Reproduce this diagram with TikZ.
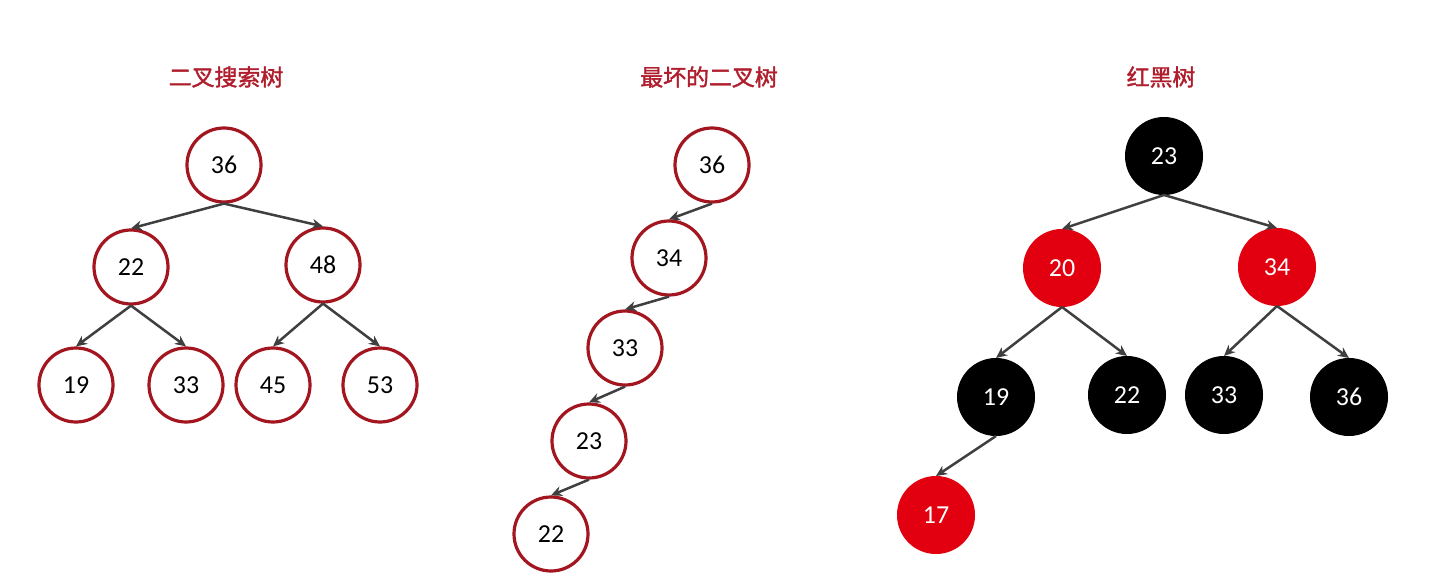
\documentclass[tikz,border=0pt]{standalone}
\usepackage{fontspec}
\setmainfont{Carlito}
\newfontfamily\cjk[AutoFakeBold=1.6]{Noto Sans CJK SC}
\usetikzlibrary{arrows.meta}
\definecolor{bred}{HTML}{A3151F}
\definecolor{tred}{HTML}{B01E2E}
\definecolor{rbred}{HTML}{E20010}
\definecolor{edge}{HTML}{3F3F3F}
\tikzset{
  bst/.style={circle, draw=bred, line width=3.2bp, fill=white, minimum size=74bp, inner sep=0pt, font=\fontsize{26}{30}\selectfont, text=black},
  rnode/.style={circle, fill=rbred, draw=rbred, line width=1bp, minimum size=77bp, inner sep=0pt, font=\fontsize{26}{30}\selectfont, text=white},
  bnode/.style={circle, fill=black, draw=black, line width=1bp, minimum size=77bp, inner sep=0pt, font=\fontsize{26}{30}\selectfont, text=white},
  title/.style={font=\cjk\bfseries\fontsize{23}{27}\selectfont, text=tred},
  link/.style={draw=edge, line width=2.5bp, -{Stealth[length=11bp,width=10bp]}}
}
\begin{document}
\begin{tikzpicture}[x=1bp,y=-1bp]
\useasboundingbox[fill=white] (0,0) rectangle (1445,582);
% titles
\node[title] (t1) at (226,77) {二叉搜索树};
\node[title] (t2) at (709,77) {最坏的二叉树};
\node[title] (t3) at (1161,77) {红黑树};
% tree 1
\node[bst] (a36) at (224,165) {36};
\node[bst] (a22) at (131,267) {22};
\node[bst] (a48) at (323,265) {48};
\node[bst] (a19) at (76,385) {19};
\node[bst] (a33) at (186,385) {33};
\node[bst] (a45) at (273,385) {45};
\node[bst] (a53) at (380,385) {53};
\draw[link] (a36.south) -- (a22.north);
\draw[link] (a36.south) -- (a48.north);
\draw[link] (a22.south) -- (a19.north);
\draw[link] (a22.south) -- (a33.north);
\draw[link] (a48.south) -- (a45.north);
\draw[link] (a48.south) -- (a53.north);
% tree 2
\node[bst] (b36) at (712,165) {36};
\node[bst] (b34) at (669,258) {34};
\node[bst] (b33) at (625,348) {33};
\node[bst] (b23) at (589,441) {23};
\node[bst] (b22) at (551,534) {22};
\draw[link] (b36.south) -- (b34.north);
\draw[link] (b34.south) -- (b33.north);
\draw[link] (b33.south) -- (b23.north);
\draw[link] (b23.south) -- (b22.north);
% tree 3
\node[bnode] (c23) at (1164,156) {23};
\node[rnode] (c20) at (1062,268) {20};
\node[rnode] (c34) at (1277,267) {34};
\node[bnode] (c19) at (996,397) {19};
\node[bnode] (c22) at (1127,395) {22};
\node[bnode] (c33) at (1224,395) {33};
\node[bnode] (c36) at (1349,397) {36};
\node[rnode] (c17) at (936,515) {17};
\draw[link] (c23.south) -- (c20.north);
\draw[link] (c23.south) -- (c34.north);
\draw[link] (c20.south) -- (c19.north);
\draw[link] (c20.south) -- (c22.north);
\draw[link] (c34.south) -- (c33.north);
\draw[link] (c34.south) -- (c36.north);
\draw[link] (c19.south) -- (c17.north);
\end{tikzpicture}
\end{document}
